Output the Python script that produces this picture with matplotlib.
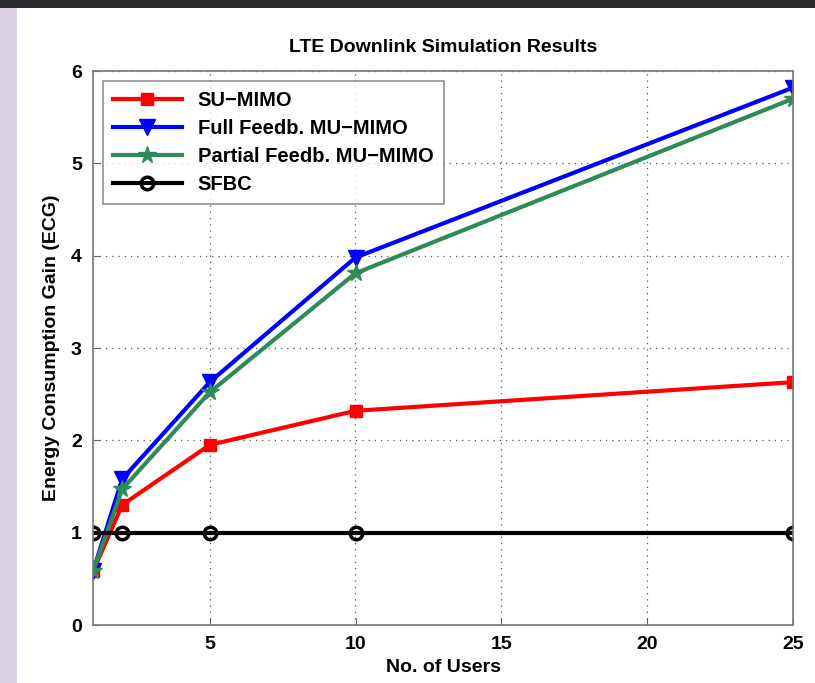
import matplotlib.pyplot as plt
from matplotlib.patches import Rectangle

# datos
usuarios = [1, 2, 5, 10, 25]
su_mimo = [0.58, 1.30, 1.95, 2.32, 2.63]
full_fb = [0.58, 1.58, 2.63, 3.98, 5.82]
partial_fb = [0.58, 1.47, 2.52, 3.81, 5.70]
sfbc = [1.0, 1.0, 1.0, 1.0, 1.0]

plt.rcParams['font.family'] = ['Liberation Sans', 'DejaVu Sans']
plt.rcParams['font.weight'] = 'bold'

fig = plt.figure(figsize=(8.15, 6.83), dpi=100)
fig.patch.set_facecolor('white')

# marco de la captura (fondo lila a la izquierda, barra oscura arriba)
fig.patches.append(Rectangle((0, 0), 17/815, 1, transform=fig.transFigure,
                             facecolor='#d9d1e2', edgecolor='none', zorder=0))
fig.patches.append(Rectangle((0, 1 - 8/683), 1, 8/683, transform=fig.transFigure,
                             facecolor='#2b2a2e', edgecolor='none', zorder=0))

ax = fig.add_axes([93/815, 1 - 625/683, 700/815, 554/683])

ax.plot(usuarios, su_mimo, color='red', lw=3, marker='s', ms=9, label='SU\u2212MIMO')
ax.plot(usuarios, full_fb, color='blue', lw=3, marker='v', ms=11, label='Full Feedb. MU\u2212MIMO')
ax.plot(usuarios, partial_fb, color='#2e8b57', lw=3, marker='*', ms=13, label='Partial Feedb. MU\u2212MIMO')
ax.plot(usuarios, sfbc, color='black', lw=3, marker='o', ms=9, mfc='none', mew=2.5, label='SFBC')

ax.set_xlim(1, 25)
ax.set_ylim(0, 6)
ax.set_xticks([5, 10, 15, 20, 25])
ax.set_yticks([0, 1, 2, 3, 4, 5, 6])
ax.grid(True, linestyle=(0, (1, 4)), color='#555555', lw=0.9)
ax.tick_params(direction='in', labelsize=14, length=5, color='#666666', pad=8)
for s in ax.spines.values():
    s.set_color('#777777')
    s.set_linewidth(1.2)

ax.set_title('LTE Downlink Simulation Results', fontsize=14, fontweight='bold', pad=14)
ax.set_xlabel('No. of Users', fontsize=14, fontweight='bold', labelpad=4)
ax.set_ylabel('Energy Consumption Gain (ECG)', fontsize=14, fontweight='bold', labelpad=8)

leg = ax.legend(loc='upper left', fontsize=14.5, fancybox=False, edgecolor='#777777',
                handlelength=3.4, borderaxespad=0.5, labelspacing=0.45, borderpad=0.5)
leg.get_frame().set_linewidth(1.2)

fig.savefig('out.png', dpi=100)
